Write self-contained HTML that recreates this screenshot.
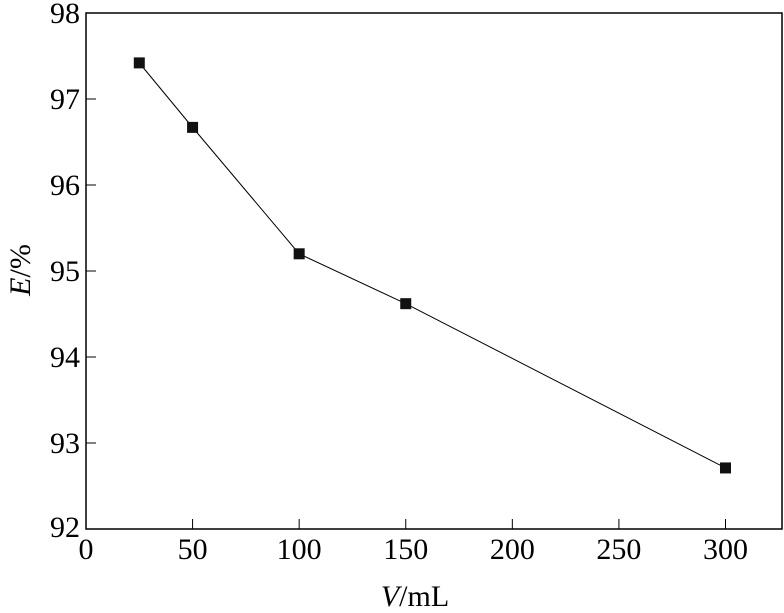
<!DOCTYPE html>
<html><head><meta charset="utf-8"><style>
body{margin:0;background:#fff}
svg{display:block;font-family:"Liberation Serif",serif}
</style></head><body>
<svg id="chart" width="784" height="613"></svg>
<script>
const xValues=[25,50,100,150,300];
const yValues=[97.42,96.67,95.2,94.62,92.71];
const xTicks=[0,50,100,150,200,250,300];
const yTicks=[92,93,94,95,96,97,98];
const L=86,R=782,T=13,B=529;
const sx=v=>L+(v-0)*(725.5-86)/300;
const sy=v=>B-(v-92)*(B-T)/6;
const svg=document.getElementById('chart');
const NS='http://www.w3.org/2000/svg';
function mk(tag,attrs,parent){const e=document.createElementNS(NS,tag);for(const k in attrs)e.setAttribute(k,attrs[k]);(parent||svg).appendChild(e);return e;}
const frame=mk('rect',{x:L,y:T,width:R-L,height:B-T,fill:'none',stroke:'#000','stroke-width':1.5});


xTicks.forEach(t=>{
  const ln=mk('line',{x1:sx(t),x2:sx(t),y1:B,y2:B-10,stroke:'#000','stroke-width':1});
  
  
  const tx=mk('text',{x:sx(t),y:B+30,'text-anchor':'middle','font-size':30});
  tx.textContent=t;
  
  
});
yTicks.forEach(t=>{
  const ln=mk('line',{x1:L,x2:L+10,y1:sy(t),y2:sy(t),stroke:'#000','stroke-width':1});
  
  
  const tx=mk('text',{x:L-6,y:sy(t)+(t===92?8:10),'text-anchor':'end','font-size':30});
  tx.textContent=t;
  
  
});
const pts=xValues.map((x,i)=>sx(x)+','+sy(yValues[i])).join(' ');
const pl=mk('polyline',{points:pts,fill:'none',stroke:'#000','stroke-width':1});


xValues.forEach((x,i)=>{
  const r=mk('rect',{x:sx(x)-5.5,y:sy(yValues[i])-5.5,width:11,height:11,fill:'#111'});
  
  
});
const xt=mk('text',{x:415,y:606,'text-anchor':'middle','font-size':30});
xt.innerHTML='<tspan font-style="italic">V</tspan>/mL';


const yt=mk('text',{x:0,y:0,'text-anchor':'middle','font-size':30,transform:'translate(30,270) rotate(-90)'});
yt.innerHTML='<tspan font-style="italic">E</tspan>/%';


</script>
</body></html>
